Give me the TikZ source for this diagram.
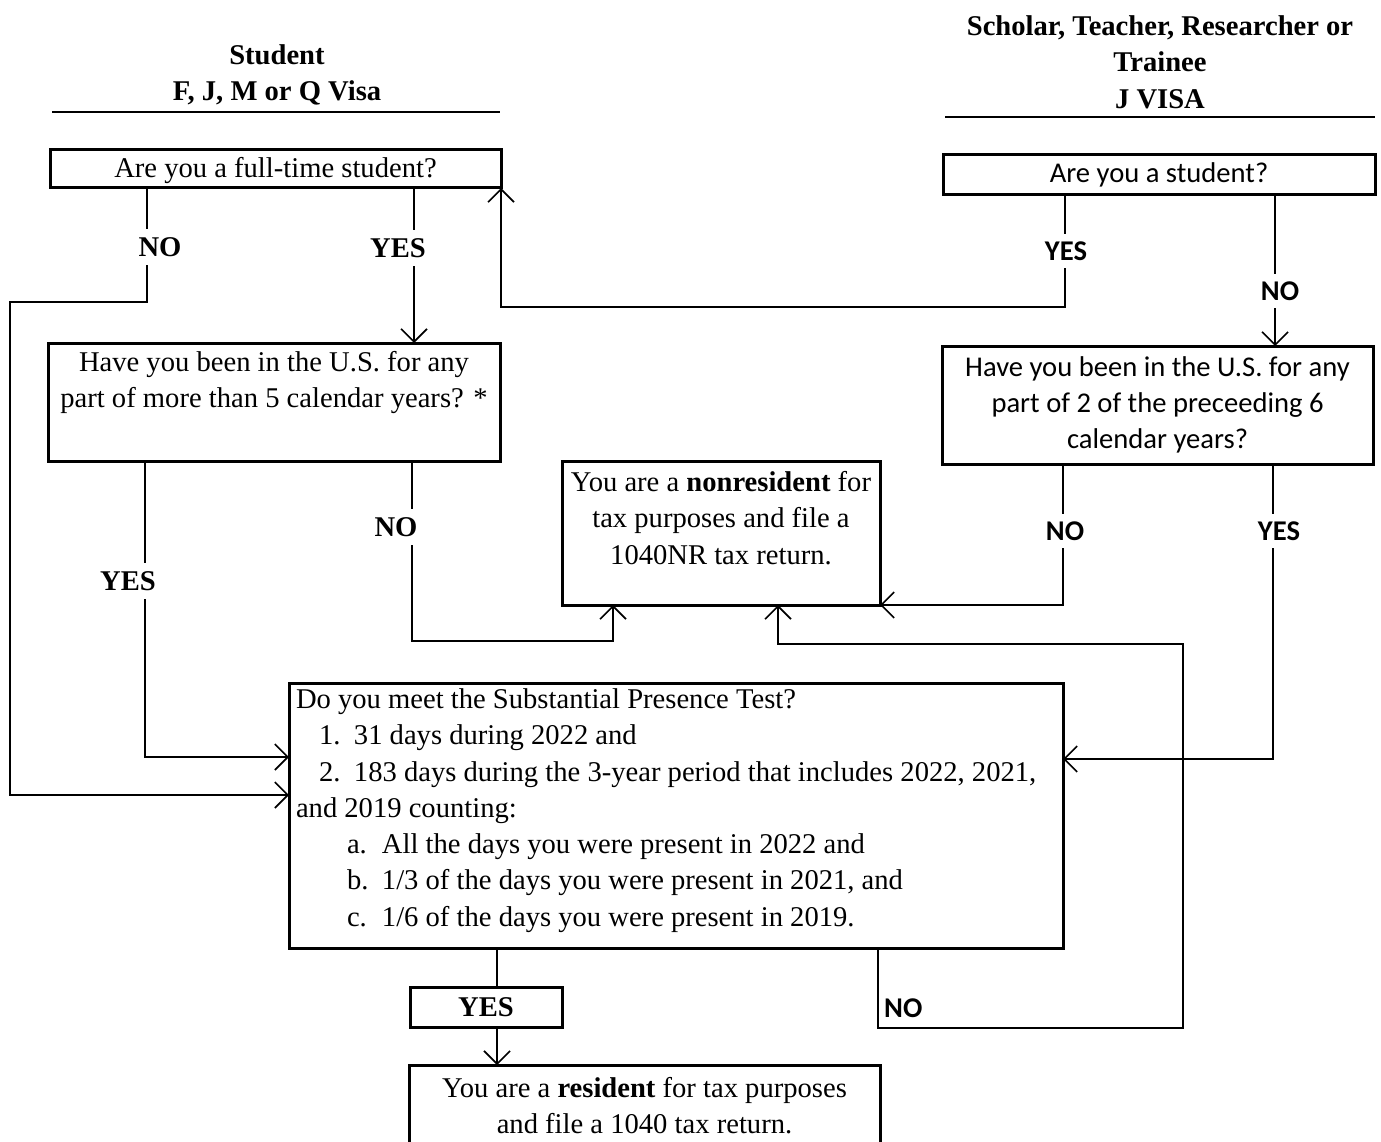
\documentclass[tikz,border=0pt]{standalone}
\usepackage{fontspec}
\setmainfont{Liberation Serif}
\newfontfamily\carl{Carlito}
\usetikzlibrary{arrows.meta}
\newcommand\fsz{\fontsize{28.6}{36.3}\selectfont}
\newcommand\itm[2]{\makebox[35pt][l]{#1}#2}
\begin{document}
\begin{tikzpicture}[x=1pt,y=-1pt,
 box/.style={draw, line width=3pt, inner sep=0pt, outer sep=0pt},
 conn/.style={line width=1.6pt},
 arr/.style={-{Straight Barb[length=13pt,width=26pt]}},
 lab/.style={font=\fsz\bfseries, fill=white, inner xsep=2pt, inner ysep=8pt},
 labc/.style={font=\fsz\carl\bfseries, fill=white, inner xsep=2pt, inner ysep=8pt},
 head/.style={font=\fsz\bfseries, align=center},
 rule/.style={line width=1.6pt}]
\fill[white] (0,0) rectangle (1381,1142);
\clip (0,0) rectangle (1381,1142);

% headers
\node[head] (h1) at (277,75) {Student\\F, J, M or Q Visa};
\node[head] (h2) at (1160,62) {Scholar, Teacher, Researcher or\\Trainee\\J VISA};
\draw[rule] (52,112) -- (500,112);
\draw[rule] (945,117) -- (1375,117);

% boxes
\node[box, font=\fsz] (A) at (275.5,169) {\parbox[c][38pt][c]{451pt}{\centering\vspace*{3pt}Are you a full-time student?}};
\node[box, font=\fsz\carl] (B) at (1159,175) {\parbox[c][40pt][c]{432pt}{\centering Are you a student?}};
\node[box, font=\fsz] (C) at (274,402) {\parbox[c][118pt][t]{452pt}{\centering\vspace*{3pt}\strut Have you been in the U.S. for any\\ part of more than 5 calendar years? *}};
\node[box, font=\fsz\carl] (D) at (1157.5,405) {\parbox[c][118pt][c]{431pt}{\centering Have you been in the U.S. for any\\ part of 2 of the preceeding 6\\ calendar years?}};
\node[box, font=\fsz] (E) at (721,533) {\parbox[c][144pt][t]{318pt}{\centering\vspace*{5pt}\strut\mbox{You are a \textbf{nonresident} for}\\ tax purposes and file a\\ 1040NR tax return.}};
\node[box, font=\fsz] (F) at (676,815.5) {\parbox[c][265pt][t]{774pt}{\raggedright\leftskip=7pt\strut Do you meet the Substantial Presence Test?\\
\hspace*{23pt}\itm{1.}{31 days during 2022 and}\\
\hspace*{23pt}\itm{2.}{183 days during the 3-year period that includes 2022, 2021,}\\
and 2019 counting:\\
\hspace*{51pt}\itm{a.}{All the days you were present in 2022 and}\\
\hspace*{51pt}\itm{b.}{1/3 of the days you were present in 2021, and}\\
\hspace*{51pt}\itm{c.}{1/6 of the days you were present in 2019.}}};
\node[box, font=\fsz\bfseries] (Y) at (486,1007) {\parbox[c][40pt][c]{152pt}{\centering YES}};
\node[box, font=\fsz] (G) at (644.5,1110) {\parbox[c][90pt][t]{471pt}{\centering\vspace*{7pt}\strut You are a \textbf{resident} for tax purposes\\ and file a 1040 tax return.}};

% connectors
\draw[conn,arr] (147,0 |- A.south) -- (147,302) -| (10,795) -- (F.west |- 0,795);
\draw[conn,arr] (414,0 |- A.south) -- (414,0 |- C.north);
\draw[conn,arr] (1065,0 |- B.south) -- (1065,307) -| (A.south east);
\draw[conn,arr] (1275,0 |- B.south) -- (1275,0 |- D.north);
\draw[conn,arr] (145,0 |- C.south) |- (F.west |- 0,757);
\draw[conn,arr] (412,0 |- C.south) -- (412,641) -| (613,0 |- E.south);
\draw[conn,arr] (1063,0 |- D.south) |- (E.south east);
\draw[conn,arr] (1273,0 |- D.south) |- (F.east |- 0,759);
\draw[conn,arr] (878,0 |- F.south) |- (1183,1028) |- (778,644) -- (778,0 |- E.south);
\draw[conn] (497,0 |- F.south) -- (497,0 |- Y.north);
\draw[conn,arr] (497,0 |- Y.south) -- (497,0 |- G.north);

% labels
\node[lab] (l1) at (160,247) {NO};
\node[lab] (l2) at (398,248) {YES};
\node[labc] (l3) at (1066,251) {YES};
\node[labc] (l4) at (1280,291) {NO};
\node[lab] (l5) at (128,581) {YES};
\node[lab] (l6) at (396,527) {NO};
\node[labc] (l7) at (1065,531) {NO};
\node[labc] (l8) at (1279,531) {YES};
\node[font=\fsz\carl\bfseries, anchor=west, inner sep=0pt] (l9) at (884,1008) {NO};
\end{tikzpicture}
\end{document}
